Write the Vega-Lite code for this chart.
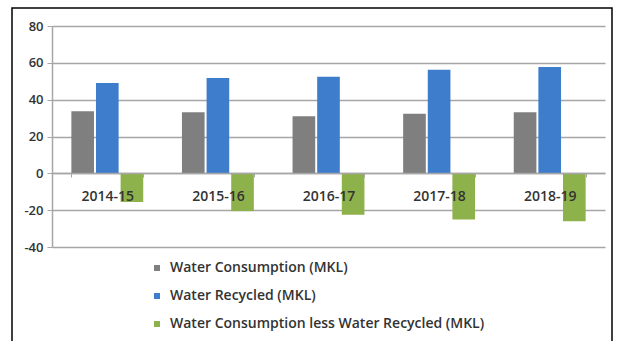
{
  "$schema": "https://vega.github.io/schema/vega-lite/v6.json",
  "width": 600,
  "height": 340,
  "autosize": {"type": "none"},
  "padding": {"left": 12, "top": 8, "right": 10, "bottom": 0},
  "background": "white",
  "config": {"view": {"stroke": "#000000", "strokeWidth": 1.5}, "font": "Open Sans"},
  "data": {
    "values": [
      {"year": "2014-15", "series": "Water Consumption (MKL)", "value": 33.7},
      {"year": "2014-15", "series": "Water Recycled (MKL)", "value": 49.0},
      {"year": "2014-15", "series": "Water Consumption less Water Recycled (MKL)", "value": -15.5},
      {"year": "2015-16", "series": "Water Consumption (MKL)", "value": 33.1},
      {"year": "2015-16", "series": "Water Recycled (MKL)", "value": 51.7},
      {"year": "2015-16", "series": "Water Consumption less Water Recycled (MKL)", "value": -20.5},
      {"year": "2016-17", "series": "Water Consumption (MKL)", "value": 31.0},
      {"year": "2016-17", "series": "Water Recycled (MKL)", "value": 52.5},
      {"year": "2016-17", "series": "Water Consumption less Water Recycled (MKL)", "value": -22.5},
      {"year": "2017-18", "series": "Water Consumption (MKL)", "value": 32.4},
      {"year": "2017-18", "series": "Water Recycled (MKL)", "value": 56.3},
      {"year": "2017-18", "series": "Water Consumption less Water Recycled (MKL)", "value": -25.0},
      {"year": "2018-19", "series": "Water Consumption (MKL)", "value": 33.1},
      {"year": "2018-19", "series": "Water Recycled (MKL)", "value": 57.7},
      {"year": "2018-19", "series": "Water Consumption less Water Recycled (MKL)", "value": -26.0}
    ]
  },
  "mark": {"type": "bar"},
  "encoding": {
    "x": {
      "field": "year",
      "type": "nominal",
      "scale": {"range": [40, 593], "paddingInner": 0.35, "paddingOuter": 0.175},
      "axis": {
        "orient": "bottom",
        "offset": -175,
        "tickBand": "extent",
        "labelPadding": 12,
        "tickSize": 4,
        "domainColor": "#a6a6a6",
        "domainWidth": 1.5,
        "tickColor": "#a6a6a6",
        "labelAngle": 0,
        "title": null,
        "grid": false,
        "zindex": 1,
        "labelFontSize": 14,
        "labelFontWeight": 600,
        "labelColor": "#333333"
      }
    },
    "xOffset": {
      "field": "series",
      "type": "nominal",
      "sort": ["Water Consumption (MKL)", "Water Recycled (MKL)", "Water Consumption less Water Recycled (MKL)"],
      "scale": {"paddingInner": 0.08}
    },
    "y": {
      "field": "value",
      "type": "quantitative",
      "scale": {"domain": [-40, 80], "range": [239, 18], "nice": false, "zero": false},
      "axis": {
        "offset": -40,
        "values": [-40, -20, 0, 20, 40, 60, 80],
        "labelExpr": "'' + datum.value",
        "grid": true,
        "gridColor": "#a6a6a6",
        "gridWidth": 1.5,
        "domainColor": "#a6a6a6",
        "domainWidth": 1.5,
        "tickColor": "#a6a6a6",
        "tickSize": 5,
        "labelPadding": 4,
        "title": null,
        "labelFontSize": 13,
        "labelFontWeight": 600,
        "labelColor": "#333333"
      }
    },
    "color": {
      "field": "series",
      "type": "nominal",
      "scale": {
        "domain": ["Water Consumption (MKL)", "Water Recycled (MKL)", "Water Consumption less Water Recycled (MKL)"],
        "range": ["#7f7f7f", "#3d7dcc", "#8eb24b"]
      },
      "legend": {
        "orient": "none",
        "legendX": 138,
        "legendY": 253,
        "direction": "vertical",
        "title": null,
        "symbolType": "square",
        "symbolSize": 36,
        "labelFontSize": 14,
        "labelFontWeight": 600,
        "labelLimit": 0,
        "rowPadding": 14,
        "labelColor": "#333333",
        "labelOffset": 6
      }
    }
  }
}
